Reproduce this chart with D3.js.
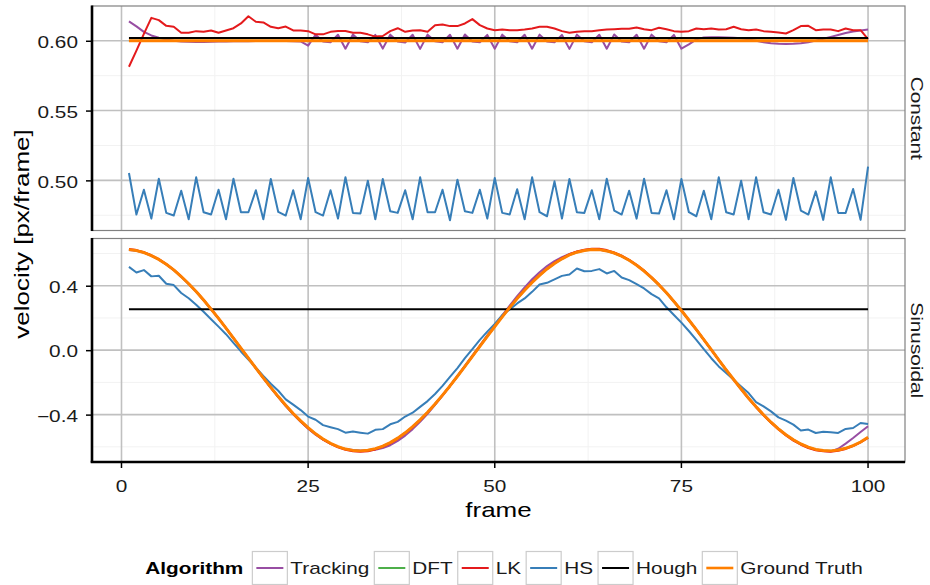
<!DOCTYPE html>
<html>
<head>
<meta charset="utf-8">
<script src="https://cdn.jsdelivr.net/npm/d3@7"></script>
<style>
  body { margin: 0; background: #fff; }
  text { font-family: "Liberation Sans", Arial, Helvetica, sans-serif; }
</style>
</head>
<body>
<script>
// legend order = drawing order (ground truth ends up on top)
const algorithms = ["Tracking", "DFT", "LK", "HS", "Hough", "Ground Truth"];
const colors = ["#984ea3", "#4daf4a", "#e41a1c", "#377eb8", "#000000", "#ff7f00"];
const panelNames = ["Constant", "Sinusoidal"];

const xTicks = [0, 25, 50, 75, 100];
const yTicksConstant = [0.50, 0.55, 0.60];
const yTicksSinusoidal = [-0.4, 0.0, 0.4];

const frames = d3.range(1, 101);   // frame 1..100
const flatFrames = [1, 100];       // flat series only need their two ends

// ---- Constant panel ----
const trackingConstant = [
  0.6139, 0.6103, 0.6064, 0.6038, 0.6022, 0.6009, 0.6001, 0.5995, 0.5993, 0.5992,
  0.5992, 0.5993, 0.5994, 0.5995, 0.5996, 0.5997, 0.5997, 0.5998, 0.5998, 0.5998,
  0.5998, 0.5998, 0.5997, 0.5995, 0.5965, 0.6043, 0.5995, 0.5989, 0.6043, 0.5943,
  0.6045, 0.5996, 0.5990, 0.6042, 0.5944, 0.6044, 0.5995, 0.5988, 0.6043, 0.5942,
  0.6044, 0.5996, 0.5990, 0.6043, 0.5943, 0.6045, 0.5995, 0.5989, 0.6042, 0.5943,
  0.6044, 0.5996, 0.5990, 0.6043, 0.5943, 0.6044, 0.5995, 0.5989, 0.6042, 0.5942,
  0.6044, 0.5996, 0.5990, 0.6043, 0.5943, 0.6045, 0.5995, 0.5989, 0.6043, 0.5943,
  0.6044, 0.5996, 0.5990, 0.6042, 0.5943, 0.5974, 0.6010, 0.6024, 0.6025, 0.6025,
  0.6024, 0.6022, 0.6018, 0.6010, 0.6000, 0.5990, 0.5983, 0.5979, 0.5977, 0.5978,
  0.5982, 0.5990, 0.6001, 0.6014, 0.6028, 0.6042, 0.6055, 0.6066, 0.6074, 0.6080
];
const dftConstant = [0.600, 0.600];   // hidden under ground truth
const lkConstant = [
  0.5814, 0.5930, 0.6050, 0.6164, 0.6148, 0.6107, 0.6100, 0.6057, 0.6057, 0.6069,
  0.6064, 0.6074, 0.6057, 0.6074, 0.6090, 0.6124, 0.6176, 0.6136, 0.6131, 0.6100,
  0.6090, 0.6102, 0.6074, 0.6074, 0.6069, 0.6046, 0.6046, 0.6064, 0.6070, 0.6070,
  0.6057, 0.6057, 0.6046, 0.6030, 0.6034, 0.6069, 0.6090, 0.6064, 0.6074, 0.6076,
  0.6064, 0.6112, 0.6117, 0.6105, 0.6105, 0.6124, 0.6155, 0.6112, 0.6088, 0.6076,
  0.6081, 0.6076, 0.6076, 0.6081, 0.6088, 0.6100, 0.6100, 0.6088, 0.6069, 0.6057,
  0.6064, 0.6069, 0.6069, 0.6076, 0.6081, 0.6083, 0.6086, 0.6086, 0.6095, 0.6083,
  0.6076, 0.6093, 0.6083, 0.6069, 0.6064, 0.6069, 0.6088, 0.6083, 0.6088, 0.6081,
  0.6083, 0.6100, 0.6083, 0.6076, 0.6081, 0.6069, 0.6064, 0.6060, 0.6052, 0.6076,
  0.6105, 0.6107, 0.6076, 0.6081, 0.6081, 0.6069, 0.6088, 0.6076, 0.6076, 0.6012
];
const hsConstant = [
  0.5053, 0.4755, 0.4933, 0.4726, 0.5012, 0.4767, 0.4748, 0.4926, 0.4721, 0.5022,
  0.4772, 0.4755, 0.4933, 0.4721, 0.5012, 0.4772, 0.4772, 0.4929, 0.4721, 0.5010,
  0.4774, 0.4748, 0.4929, 0.4721, 0.5017, 0.4772, 0.4748, 0.4929, 0.4726, 0.5022,
  0.4767, 0.4762, 0.4998, 0.4721, 0.5010, 0.4779, 0.4767, 0.4929, 0.4721, 0.5022,
  0.4772, 0.4772, 0.4933, 0.4714, 0.5005, 0.4779, 0.4767, 0.4933, 0.4726, 0.5017,
  0.4767, 0.4755, 0.4936, 0.4721, 0.5022, 0.4772, 0.4743, 0.4993, 0.4726, 0.5010,
  0.4772, 0.4767, 0.4929, 0.4721, 0.5012, 0.4784, 0.4755, 0.4926, 0.4726, 0.5012,
  0.4767, 0.4762, 0.4929, 0.4721, 0.5010, 0.4772, 0.4743, 0.4926, 0.4721, 0.5022,
  0.4772, 0.4755, 0.4998, 0.4721, 0.5022, 0.4772, 0.4755, 0.4933, 0.4717, 0.5017,
  0.4784, 0.4755, 0.4921, 0.4717, 0.5022, 0.4767, 0.4767, 0.4938, 0.4717, 0.5098
];
const houghConstant = [0.602, 0.602];
const groundTruthConstant = [0.600, 0.600];

// ---- Sinusoidal panel ----
const groundTruthSinusoidal = [
  0.624, 0.618, 0.606, 0.587, 0.563, 0.533, 0.498, 0.457, 0.412, 0.364,
  0.311, 0.255, 0.197, 0.137, 0.075, 0.013, -0.049, -0.111, -0.172, -0.231,
  -0.288, -0.342, -0.393, -0.439, -0.481, -0.519, -0.551, -0.578, -0.599, -0.614,
  -0.622, -0.625, -0.621, -0.611, -0.596, -0.574, -0.546, -0.513, -0.475, -0.432,
  -0.385, -0.334, -0.279, -0.222, -0.162, -0.101, -0.039, 0.024, 0.086, 0.147,
  0.207, 0.265, 0.320, 0.372, 0.420, 0.464, 0.504, 0.538, 0.567, 0.591,
  0.608, 0.619, 0.625, 0.624, 0.616, 0.603, 0.583, 0.558, 0.527, 0.491,
  0.450, 0.405, 0.356, 0.302, 0.246, 0.187, 0.127, 0.065, 0.003, -0.060,
  -0.122, -0.182, -0.241, -0.298, -0.351, -0.401, -0.447, -0.488, -0.525, -0.556,
  -0.582, -0.602, -0.616, -0.623, -0.625, -0.620, -0.609, -0.592, -0.570, -0.541
];
const dftSinusoidal = groundTruthSinusoidal.slice();   // DFT lies exactly under ground truth
const trackingSinusoidal = [
  0.622, 0.617, 0.605, 0.586, 0.562, 0.532, 0.497, 0.456, 0.411, 0.363,
  0.310, 0.254, 0.196, 0.136, 0.074, 0.012, -0.050, -0.112, -0.174, -0.234,
  -0.292, -0.347, -0.398, -0.445, -0.487, -0.524, -0.555, -0.580, -0.600, -0.613,
  -0.620, -0.622, -0.622, -0.618, -0.608, -0.590, -0.563, -0.530, -0.490, -0.445,
  -0.395, -0.340, -0.282, -0.222, -0.160, -0.097, -0.034, 0.029, 0.092, 0.154,
  0.216, 0.277, 0.336, 0.390, 0.440, 0.484, 0.522, 0.553, 0.577, 0.597,
  0.611, 0.621, 0.625, 0.623, 0.615, 0.601, 0.582, 0.558, 0.527, 0.491,
  0.450, 0.405, 0.356, 0.302, 0.246, 0.187, 0.127, 0.065, 0.003, -0.060,
  -0.122, -0.182, -0.241, -0.298, -0.351, -0.401, -0.447, -0.488, -0.525, -0.556,
  -0.582, -0.603, -0.618, -0.626, -0.628, -0.612, -0.580, -0.545, -0.508, -0.472
];
const lkSinusoidal = [
  0.628, 0.621, 0.608, 0.589, 0.565, 0.534, 0.499, 0.458, 0.413, 0.365,
  0.312, 0.256, 0.197, 0.137, 0.075, 0.012, -0.050, -0.112, -0.173, -0.233,
  -0.290, -0.344, -0.395, -0.442, -0.484, -0.522, -0.555, -0.582, -0.603, -0.618,
  -0.627, -0.631, -0.627, -0.616, -0.600, -0.578, -0.550, -0.516, -0.478, -0.434,
  -0.386, -0.335, -0.280, -0.222, -0.162, -0.100, -0.038, 0.025, 0.087, 0.148,
  0.209, 0.267, 0.322, 0.374, 0.423, 0.467, 0.507, 0.542, 0.571, 0.595,
  0.613, 0.624, 0.630, 0.629, 0.621, 0.607, 0.587, 0.561, 0.530, 0.494,
  0.452, 0.407, 0.357, 0.303, 0.247, 0.187, 0.127, 0.065, 0.002, -0.061,
  -0.123, -0.184, -0.243, -0.300, -0.354, -0.404, -0.451, -0.492, -0.529, -0.561,
  -0.587, -0.607, -0.621, -0.628, -0.630, -0.625, -0.613, -0.595, -0.572, -0.544
];
const hsSinusoidal = [
  0.517, 0.482, 0.497, 0.458, 0.462, 0.412, 0.404, 0.355, 0.322, 0.282,
  0.238, 0.192, 0.146, 0.099, 0.045, -0.008, -0.058, -0.108, -0.160, -0.208,
  -0.252, -0.305, -0.338, -0.372, -0.412, -0.432, -0.465, -0.478, -0.490, -0.512,
  -0.505, -0.512, -0.518, -0.494, -0.490, -0.460, -0.445, -0.412, -0.388, -0.352,
  -0.316, -0.272, -0.222, -0.166, -0.111, -0.050, 0.006, 0.064, 0.115, 0.163,
  0.218, 0.253, 0.290, 0.321, 0.362, 0.408, 0.418, 0.439, 0.461, 0.470,
  0.507, 0.490, 0.492, 0.503, 0.476, 0.492, 0.451, 0.435, 0.410, 0.383,
  0.348, 0.321, 0.266, 0.218, 0.171, 0.119, 0.064, 0.006, -0.050, -0.101,
  -0.142, -0.184, -0.225, -0.266, -0.322, -0.349, -0.380, -0.417, -0.437, -0.462,
  -0.499, -0.493, -0.514, -0.507, -0.510, -0.514, -0.489, -0.483, -0.452, -0.458
];
const houghSinusoidal = [0.254, 0.254];

// ---- layout ----
const W = 930, H = 585;
const SX = 1.3;                 // the reference font runs wide; stretch text horizontally
const left = 92, right = 905;

const panels = [
  { name: panelNames[0], ticks: yTicksConstant, fmt: ".2f", top: 6, bottom: 230.5,
    series: [trackingConstant, dftConstant, lkConstant, hsConstant, houghConstant, groundTruthConstant] },
  { name: panelNames[1], ticks: yTicksSinusoidal, fmt: ".1f", top: 238.5, bottom: 462,
    series: [trackingSinusoidal, dftSinusoidal, lkSinusoidal, hsSinusoidal, houghSinusoidal, groundTruthSinusoidal] }
];

const svg = d3.select("body").append("svg")
  .attr("width", W)
  .attr("height", H);
svg.append("rect").attr("width", W).attr("height", H).attr("fill", "#fff");

// x scale with ggplot's 5% expansion
const xExt = [frames[0], frames[frames.length - 1]];
const xPad = (xExt[1] - xExt[0]) * 0.05;
const x = d3.scaleLinear().domain([xExt[0] - xPad, xExt[1] + xPad]).range([left, right]);
const xStep = xTicks[1] - xTicks[0];
const xMinor = xTicks.map(t => t + xStep / 2).filter(v => v > x.domain()[0] && v < x.domain()[1]);

const toPoints = vals => {
  const fr = vals.length === 2 ? flatFrames : frames;
  return vals.map((v, i) => [fr[i], v]);
};

panels.forEach((p, pi) => {
  const ext = d3.extent(p.series.flat());
  const pad = (ext[1] - ext[0]) * 0.05;
  const y = d3.scaleLinear().domain([ext[0] - pad, ext[1] + pad]).range([p.bottom, p.top]);
  const step = p.ticks[1] - p.ticks[0];
  const yMinor = [p.ticks[0] - step / 2].concat(p.ticks.map(t => t + step / 2))
    .filter(v => v > y.domain()[0] && v < y.domain()[1]);

  const g = svg.append("g");

  // minor grid
  g.selectAll(".xminor").data(xMinor).join("line")
    .attr("x1", d => x(d)).attr("x2", d => x(d))
    .attr("y1", p.top).attr("y2", p.bottom)
    .attr("stroke", "#f2f2f2").attr("stroke-width", 1);
  g.selectAll(".yminor").data(yMinor).join("line")
    .attr("x1", left).attr("x2", right)
    .attr("y1", d => y(d)).attr("y2", d => y(d))
    .attr("stroke", "#f2f2f2").attr("stroke-width", 1);
  // major grid
  g.selectAll(".xmajor").data(xTicks).join("line")
    .attr("x1", d => x(d)).attr("x2", d => x(d))
    .attr("y1", p.top).attr("y2", p.bottom)
    .attr("stroke", "#c0c0c0").attr("stroke-width", 1.6);
  g.selectAll(".ymajor").data(p.ticks).join("line")
    .attr("x1", left).attr("x2", right)
    .attr("y1", d => y(d)).attr("y2", d => y(d))
    .attr("stroke", "#c0c0c0").attr("stroke-width", 1.6);

  // series
  const line = d3.line().x(d => x(d[0])).y(d => y(d[1]));
  p.series.forEach((vals, i) => {
    g.append("path")
      .datum(toPoints(vals))
      .attr("d", line)
      .attr("fill", "none")
      .attr("stroke", colors[i])
      .attr("stroke-width", algorithms[i] === "Ground Truth" ? 3 : 2)
      .attr("stroke-linejoin", "round");
  });

  // panel border
  g.append("rect")
    .attr("x", left).attr("y", p.top)
    .attr("width", right - left).attr("height", p.bottom - p.top)
    .attr("fill", "none").attr("stroke", "#808080").attr("stroke-width", 1.2);

  // y axis
  const yAxis = g.append("g")
    .attr("transform", `translate(${left},0)`)
    .call(d3.axisLeft(y).tickValues(p.ticks).tickSize(6).tickFormat(d3.format(p.fmt)));
  yAxis.select(".domain").remove();
  yAxis.selectAll(".tick line").attr("stroke", "#000").attr("stroke-width", 1.5);
  yAxis.selectAll(".tick text")
    .attr("font-size", 16)
    .attr("font-family", null)
    .attr("fill", "#1a1a1a")
    .attr("x", -14 / SX)
    .attr("dy", "0.42em")
    .attr("transform", `scale(${SX},1)`);
  g.append("line")
    .attr("x1", left).attr("x2", left)
    .attr("y1", p.top - 0.5).attr("y2", p.bottom + 0.5)
    .attr("stroke", "#000").attr("stroke-width", 2.6);

  // strip label on the right
  svg.append("text")
    .attr("transform", `translate(917,${(p.top + p.bottom) / 2}) rotate(90) scale(${SX},1)`)
    .attr("text-anchor", "middle")
    .attr("dy", "0.35em")
    .attr("font-size", 16)
    .attr("fill", "#1a1a1a")
    .text(p.name);

  // x axis only under the last panel
  if (pi === panels.length - 1) {
    const xAxis = svg.append("g")
      .attr("transform", `translate(0,${p.bottom})`)
      .call(d3.axisBottom(x).tickValues(xTicks).tickSize(6).tickPadding(13));
    xAxis.select(".domain").remove();
    xAxis.selectAll(".tick line").attr("stroke", "#000").attr("stroke-width", 1.5);
    xAxis.selectAll(".tick text")
      .attr("font-size", 16)
      .attr("font-family", null)
      .attr("fill", "#1a1a1a")
      .attr("transform", `scale(${SX},1)`)
      .attr("x", function () { return 0; });
    // scale() would shift the tick's own x, so move text by inverse
    xAxis.selectAll(".tick").each(function (d) {
      d3.select(this).attr("transform", `translate(${x(d)},0)`);
    });
    svg.append("line")
      .attr("x1", left - 1.3).attr("x2", right)
      .attr("y1", p.bottom).attr("y2", p.bottom)
      .attr("stroke", "#000").attr("stroke-width", 2.6);
  }
});

// axis titles
svg.append("text")
  .attr("transform", `translate(${(left + right) / 2},517) scale(${SX},1)`)
  .attr("text-anchor", "middle")
  .attr("font-size", 20)
  .text("frame");
svg.append("text")
  .attr("transform", `translate(29,${(panels[0].top + panels[1].bottom) / 2}) rotate(-90) scale(${SX},1)`)
  .attr("text-anchor", "middle")
  .attr("font-size", 20)
  .text("velocity [px/frame]");

// legend along the bottom
const legendY = 568, keyW = 35, keyH = 33;
const legend = svg.append("g");
const title = legend.append("text")
  .attr("transform", `translate(0,${legendY}) scale(${SX},1)`)
  .attr("dy", "0.35em")
  .attr("font-size", 16)
  .attr("font-weight", "bold")
  .text("Algorithm");
let cursor = title.node().getComputedTextLength() * SX + 9;
algorithms.forEach((a, i) => {
  legend.append("rect")
    .attr("x", cursor).attr("y", legendY - keyH / 2)
    .attr("width", keyW).attr("height", keyH)
    .attr("fill", "#fff").attr("stroke", "#cccccc").attr("stroke-width", 1.2);
  legend.append("line")
    .attr("x1", cursor + 4).attr("x2", cursor + keyW - 4)
    .attr("y1", legendY).attr("y2", legendY)
    .attr("stroke", colors[i])
    .attr("stroke-width", a === "Ground Truth" ? 2.6 : 2);
  cursor += keyW + 3;
  const t = legend.append("text")
    .attr("transform", `translate(${cursor},${legendY}) scale(${SX},1)`)
    .attr("dy", "0.35em")
    .attr("font-size", 16)
    .attr("fill", "#1a1a1a")
    .text(a);
  cursor += t.node().getComputedTextLength() * SX + 5;
});
const legendW = cursor - 5;
legend.attr("transform", `translate(${504 - legendW / 2},0)`);
</script>
</body>
</html>
